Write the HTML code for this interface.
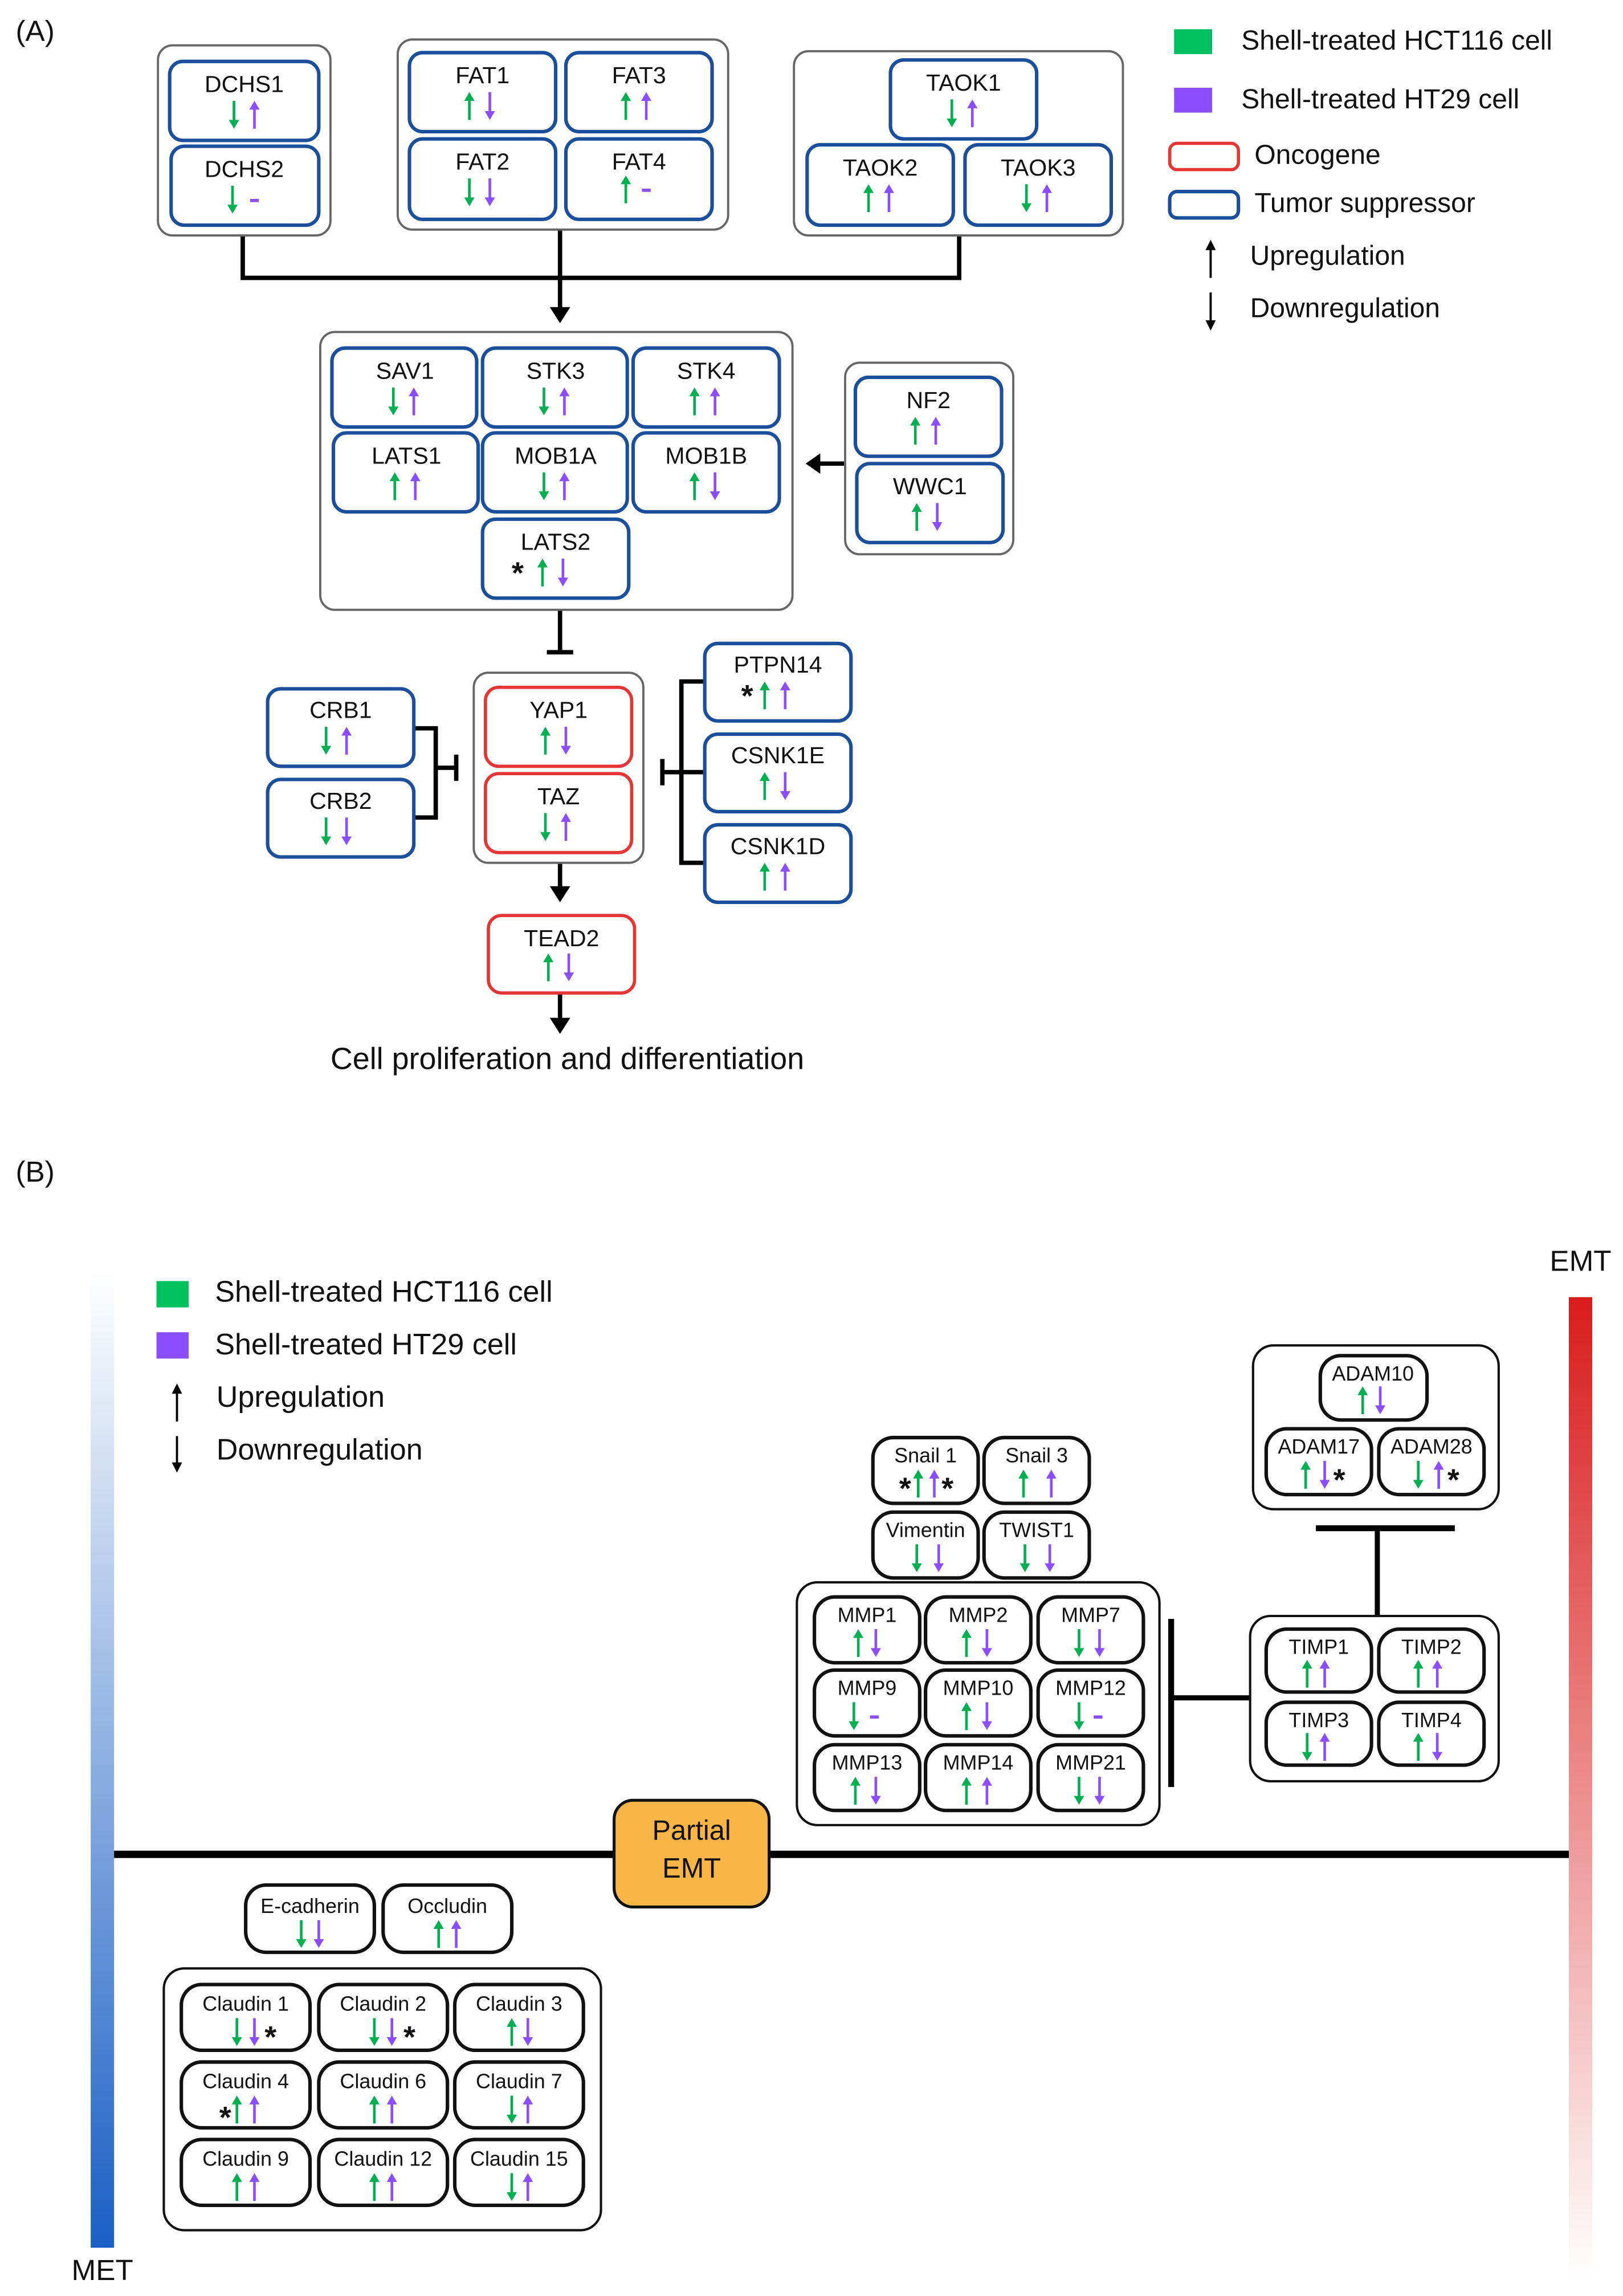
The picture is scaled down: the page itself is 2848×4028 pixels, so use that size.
<!DOCTYPE html>
<html><head><meta charset="utf-8"><style>
html,body{margin:0;padding:0;background:#fff}
svg{display:block}
text{font-family:"Liberation Sans",sans-serif;font-size:16px;text-anchor:middle;fill:#111}
.b{fill:#fff;stroke:#1b4f9c;stroke-width:2.4}
.r{fill:#fff;stroke:#e53535;stroke-width:2.2}
.g{fill:#fff;stroke:#666;stroke-width:1.5}
.k{fill:#fff;stroke:#111;stroke-width:2.4}
.kc{fill:#fff;stroke:#111;stroke-width:1.6}
.l{stroke:#000;stroke-width:3;fill:none}
.s{font-size:21px;font-weight:bold}
.lg{font-size:18.7px;text-anchor:start}
.lb{font-size:20.3px;text-anchor:start}
.sm{font-size:14px}
</style></head><body>
<svg width="2848" height="4028" viewBox="0 0 1110 1570" xmlns="http://www.w3.org/2000/svg">
<defs>
<g id="gu"><line x1="0" y1="5" x2="0" y2="19" stroke="#00b050" stroke-width="1.8"/><polygon points="0,0 -3.5,6 3.5,6" fill="#00b050"/></g>
<g id="gd"><line x1="0" y1="0" x2="0" y2="14" stroke="#00b050" stroke-width="1.8"/><polygon points="-3.5,13 3.5,13 0,19" fill="#00b050"/></g>
<g id="pu"><line x1="0" y1="5" x2="0" y2="19" stroke="#8a4dff" stroke-width="1.8"/><polygon points="0,0 -3.5,6 3.5,6" fill="#8a4dff"/></g>
<g id="pd"><line x1="0" y1="0" x2="0" y2="14" stroke="#8a4dff" stroke-width="1.8"/><polygon points="-3.5,13 3.5,13 0,19" fill="#8a4dff"/></g>
<g id="pm"><rect x="-3" y="9" width="6" height="2.2" fill="#8a4dff"/></g>
<linearGradient id="met" x1="0" y1="0" x2="0" y2="1"><stop offset="0" stop-color="#fff"/><stop offset="1" stop-color="#1a5fc4"/></linearGradient>
<linearGradient id="emt" x1="0" y1="0" x2="0" y2="1"><stop offset="0" stop-color="#d91c1c"/><stop offset="1" stop-color="#fff"/></linearGradient>
</defs>

<text x="24" y="28" style="font-size:20px">(A)</text>
<text x="24" y="808" style="font-size:20px">(B)</text>

<!-- Legend A -->
<rect x="803" y="20" width="26" height="17" fill="#00c060"/>
<text x="849" y="34" class="lg">Shell-treated HCT116 cell</text>
<rect x="803" y="60" width="26" height="17" fill="#8a4dff"/>
<text x="849" y="74" class="lg">Shell-treated HT29 cell</text>
<rect x="800" y="98" width="47" height="18" rx="5" class="r"/>
<text x="858" y="112" class="lg">Oncogene</text>
<rect x="800" y="131" width="47" height="18" rx="5" class="b"/>
<text x="858" y="145" class="lg">Tumor suppressor</text>
<line x1="828" y1="170" x2="828" y2="190" stroke="#000" stroke-width="1.5"/><polygon points="828,164 824.5,171 831.5,171"/>
<text x="855" y="181" class="lg">Upregulation</text>
<line x1="828" y1="200" x2="828" y2="220" stroke="#000" stroke-width="1.5"/><polygon points="824.5,219 831.5,219 828,226"/>
<text x="855" y="217" class="lg">Downregulation</text>

<!-- connectors A -->
<polyline points="166,161 166,190 656,190 656,161" class="l"/>
<line x1="383" y1="157" x2="383" y2="212" class="l"/>
<polygon points="376,210 390,210 383,221"/>
<line x1="578" y1="317" x2="560" y2="317" class="l"/>
<polygon points="561,310 561,324 551,317"/>
<line x1="383" y1="417" x2="383" y2="446" class="l"/>
<line x1="374" y1="446" x2="392" y2="446" class="l"/>
<polyline points="283,498 298,498 298,559 283,559" class="l"/>
<line x1="298" y1="525" x2="312" y2="525" class="l"/>
<line x1="312" y1="516" x2="312" y2="534" class="l"/>
<polyline points="482,466 466,466 466,590 482,590" class="l"/>
<line x1="466" y1="528" x2="482" y2="528" class="l"/>
<line x1="466" y1="528" x2="453" y2="528" class="l"/>
<line x1="453" y1="519" x2="453" y2="537" class="l"/>
<line x1="383" y1="590" x2="383" y2="608" class="l"/>
<polygon points="376,606 390,606 383,617"/>
<line x1="383" y1="679" x2="383" y2="698" class="l"/>
<polygon points="376,696 390,696 383,707"/>
<text x="388" y="731" style="font-size:21px">Cell proliferation and differentiation</text>

<!-- containers A -->
<rect x="108" y="31" width="118" height="130" rx="10" class="g"/>
<rect x="272" y="27" width="226" height="130" rx="10" class="g"/>
<rect x="543" y="35" width="225" height="126" rx="10" class="g"/>
<rect x="219" y="227" width="323" height="190" rx="10" class="g"/>
<rect x="578" y="248" width="115" height="131" rx="10" class="g"/>
<rect x="324" y="460" width="116" height="130" rx="10" class="g"/>

<!-- boxes A -->
<g transform="translate(116,42)"><rect width="102" height="54" rx="9" class="b"/><text x="51" y="21">DCHS1</text><use href="#gd" x="44" y="27"/><use href="#pu" x="58" y="27"/></g>
<g transform="translate(117,100)"><rect width="101" height="54" rx="9" class="b"/><text x="50" y="21">DCHS2</text><use href="#gd" x="42" y="27"/><use href="#pm" x="57" y="27"/></g>
<g transform="translate(280,36)"><rect width="100" height="54" rx="9" class="b"/><text x="50" y="21">FAT1</text><use href="#gu" x="41" y="27"/><use href="#pd" x="55" y="27"/></g>
<g transform="translate(387,36)"><rect width="100" height="54" rx="9" class="b"/><text x="50" y="21">FAT3</text><use href="#gu" x="41" y="27"/><use href="#pu" x="55" y="27"/></g>
<g transform="translate(280,95)"><rect width="100" height="55" rx="9" class="b"/><text x="50" y="21">FAT2</text><use href="#gd" x="41" y="27"/><use href="#pd" x="55" y="27"/></g>
<g transform="translate(387,95)"><rect width="100" height="55" rx="9" class="b"/><text x="50" y="21">FAT4</text><use href="#gu" x="41" y="25"/><use href="#pm" x="55" y="25"/></g>
<g transform="translate(609,41)"><rect width="100" height="54" rx="9" class="b"/><text x="50" y="21">TAOK1</text><use href="#gd" x="42" y="27"/><use href="#pu" x="56" y="27"/></g>
<g transform="translate(552,99)"><rect width="100" height="55" rx="9" class="b"/><text x="50" y="21">TAOK2</text><use href="#gu" x="42" y="27"/><use href="#pu" x="56" y="27"/></g>
<g transform="translate(660,99)"><rect width="100" height="55" rx="9" class="b"/><text x="50" y="21">TAOK3</text><use href="#gd" x="42" y="27"/><use href="#pu" x="56" y="27"/></g>

<g transform="translate(227,238)"><rect width="99" height="54" rx="9" class="b"/><text x="50" y="21">SAV1</text><use href="#gd" x="42" y="27"/><use href="#pu" x="56" y="27"/></g>
<g transform="translate(330,238)"><rect width="99" height="54" rx="9" class="b"/><text x="50" y="21">STK3</text><use href="#gd" x="42" y="27"/><use href="#pu" x="56" y="27"/></g>
<g transform="translate(433,238)"><rect width="100" height="54" rx="9" class="b"/><text x="50" y="21">STK4</text><use href="#gu" x="42" y="27"/><use href="#pu" x="56" y="27"/></g>
<g transform="translate(228,296)"><rect width="99" height="54" rx="9" class="b"/><text x="50" y="21">LATS1</text><use href="#gu" x="42" y="27"/><use href="#pu" x="56" y="27"/></g>
<g transform="translate(330,296)"><rect width="99" height="54" rx="9" class="b"/><text x="50" y="21">MOB1A</text><use href="#gd" x="42" y="27"/><use href="#pu" x="56" y="27"/></g>
<g transform="translate(433,296)"><rect width="100" height="54" rx="9" class="b"/><text x="50" y="21">MOB1B</text><use href="#gu" x="42" y="27"/><use href="#pd" x="56" y="27"/></g>
<g transform="translate(330,355)"><rect width="100" height="54" rx="9" class="b"/><text x="50" y="21">LATS2</text><text x="24" y="44" class="s">*</text><use href="#gu" x="41" y="27"/><use href="#pd" x="55" y="27"/></g>
<g transform="translate(585,258)"><rect width="100" height="54" rx="9" class="b"/><text x="50" y="21">NF2</text><use href="#gu" x="41" y="27"/><use href="#pu" x="55" y="27"/></g>
<g transform="translate(586,317)"><rect width="100" height="54" rx="9" class="b"/><text x="50" y="21">WWC1</text><use href="#gu" x="41" y="27"/><use href="#pd" x="55" y="27"/></g>

<g transform="translate(183,471)"><rect width="100" height="53" rx="9" class="b"/><text x="50" y="20">CRB1</text><use href="#gd" x="40" y="26"/><use href="#pu" x="54" y="26"/></g>
<g transform="translate(183,533)"><rect width="100" height="53" rx="9" class="b"/><text x="50" y="20">CRB2</text><use href="#gd" x="40" y="26"/><use href="#pd" x="54" y="26"/></g>
<g transform="translate(332,470)"><rect width="100" height="54" rx="9" class="r"/><text x="50" y="21">YAP1</text><use href="#gu" x="41" y="27"/><use href="#pd" x="55" y="27"/></g>
<g transform="translate(332,529)"><rect width="100" height="54" rx="9" class="r"/><text x="50" y="21">TAZ</text><use href="#gd" x="41" y="27"/><use href="#pu" x="55" y="27"/></g>
<g transform="translate(482,440)"><rect width="100" height="53" rx="9" class="b"/><text x="50" y="20">PTPN14</text><text x="29" y="43" class="s">*</text><use href="#gu" x="41" y="26"/><use href="#pu" x="55" y="26"/></g>
<g transform="translate(482,502)"><rect width="100" height="53" rx="9" class="b"/><text x="50" y="20">CSNK1E</text><use href="#gu" x="41" y="26"/><use href="#pd" x="55" y="26"/></g>
<g transform="translate(482,564)"><rect width="100" height="53" rx="9" class="b"/><text x="50" y="20">CSNK1D</text><use href="#gu" x="41" y="26"/><use href="#pu" x="55" y="26"/></g>
<g transform="translate(334,626)"><rect width="100" height="53" rx="9" class="r"/><text x="50" y="21">TEAD2</text><use href="#gu" x="41" y="26"/><use href="#pd" x="55" y="26"/></g>

<!-- Panel B -->
<rect x="62" y="870" width="16" height="667" fill="url(#met)"/>
<text x="70" y="1559" style="font-size:20px">MET</text>
<rect x="1073" y="887" width="16" height="673" fill="url(#emt)"/>
<text x="1081" y="869" style="font-size:20px">EMT</text>
<line x1="78" y1="1268" x2="1073" y2="1268" stroke="#000" stroke-width="5"/>
<rect x="420" y="1231" width="106" height="73" rx="13" fill="#f9b545" stroke="#111" stroke-width="2"/>
<text x="473" y="1258" style="font-size:19px">Partial</text>
<text x="473" y="1284" style="font-size:19px">EMT</text>

<rect x="107" y="876" width="22" height="18" fill="#00c060"/>
<text x="147" y="890" class="lb">Shell-treated HCT116 cell</text>
<rect x="107" y="911" width="22" height="18" fill="#8a4dff"/>
<text x="147" y="926" class="lb">Shell-treated HT29 cell</text>
<line x1="121" y1="952" x2="121" y2="972" stroke="#000" stroke-width="1.5"/><polygon points="121,946 117.5,953 124.5,953"/>
<text x="148" y="962" class="lb">Upregulation</text>
<line x1="121" y1="982" x2="121" y2="1001" stroke="#000" stroke-width="1.5"/><polygon points="117.5,1000 124.5,1000 121,1007"/>
<text x="148" y="998" class="lb">Downregulation</text>

<!-- connectors B -->
<line x1="801" y1="1107" x2="801" y2="1222" stroke="#000" stroke-width="4"/>
<line x1="801" y1="1161" x2="855" y2="1161" stroke="#000" stroke-width="3.5"/>
<line x1="942" y1="1105" x2="942" y2="1045" stroke="#000" stroke-width="3.5"/>
<line x1="900" y1="1045" x2="995" y2="1045" stroke="#000" stroke-width="4"/>

<rect x="545" y="1082" width="248" height="166" rx="14" class="kc"/>
<rect x="855" y="1105" width="170" height="113" rx="14" class="kc"/>
<rect x="857" y="920" width="168" height="112" rx="14" class="kc"/>
<rect x="112" y="1346" width="299" height="179" rx="14" class="kc"/>

<g class="sm">
<g transform="translate(597,983)"><rect width="72" height="45" rx="14" class="k"/><text x="36" y="17" class="sm">Snail 1</text><text x="22" y="42" class="s">*</text><use href="#gu" x="31" y="22"/><use href="#pu" x="42" y="22"/><text x="51" y="42" class="s">*</text></g>
<g transform="translate(673,983)"><rect width="72" height="45" rx="14" class="k"/><text x="36" y="17" class="sm">Snail 3</text><use href="#gu" x="27" y="22"/><use href="#pu" x="46" y="22"/></g>
<g transform="translate(597,1034)"><rect width="72" height="45" rx="14" class="k"/><text x="36" y="17" class="sm">Vimentin</text><use href="#gd" x="30" y="22"/><use href="#pd" x="45" y="22"/></g>
<g transform="translate(673,1034)"><rect width="72" height="45" rx="14" class="k"/><text x="36" y="17" class="sm">TWIST1</text><use href="#gd" x="28" y="22"/><use href="#pd" x="45" y="22"/></g>

<g transform="translate(557,1092)"><rect width="72" height="45" rx="14" class="k"/><text x="36" y="17" class="sm">MMP1</text><use href="#gu" x="30" y="22"/><use href="#pd" x="42" y="22"/></g>
<g transform="translate(633,1092)"><rect width="72" height="45" rx="14" class="k"/><text x="36" y="17" class="sm">MMP2</text><use href="#gu" x="28" y="22"/><use href="#pd" x="42" y="22"/></g>
<g transform="translate(710,1092)"><rect width="72" height="45" rx="14" class="k"/><text x="36" y="17" class="sm">MMP7</text><use href="#gd" x="28" y="22"/><use href="#pd" x="42" y="22"/></g>
<g transform="translate(557,1142)"><rect width="72" height="45" rx="14" class="k"/><text x="36" y="17" class="sm">MMP9</text><use href="#gd" x="27" y="22"/><use href="#pm" x="41" y="22"/></g>
<g transform="translate(633,1142)"><rect width="72" height="45" rx="14" class="k"/><text x="36" y="17" class="sm">MMP10</text><use href="#gu" x="28" y="22"/><use href="#pd" x="42" y="22"/></g>
<g transform="translate(710,1142)"><rect width="72" height="45" rx="14" class="k"/><text x="36" y="17" class="sm">MMP12</text><use href="#gd" x="28" y="22"/><use href="#pm" x="41" y="22"/></g>
<g transform="translate(557,1193)"><rect width="72" height="45" rx="14" class="k"/><text x="36" y="17" class="sm">MMP13</text><use href="#gu" x="28" y="22"/><use href="#pd" x="42" y="22"/></g>
<g transform="translate(633,1193)"><rect width="72" height="45" rx="14" class="k"/><text x="36" y="17" class="sm">MMP14</text><use href="#gu" x="28" y="22"/><use href="#pu" x="42" y="22"/></g>
<g transform="translate(710,1193)"><rect width="72" height="45" rx="14" class="k"/><text x="36" y="17" class="sm">MMP21</text><use href="#gd" x="28" y="22"/><use href="#pd" x="42" y="22"/></g>

<g transform="translate(866,1114)"><rect width="72" height="43" rx="14" class="k"/><text x="36" y="17" class="sm">TIMP1</text><use href="#gu" x="28" y="21"/><use href="#pu" x="40" y="21"/></g>
<g transform="translate(943,1114)"><rect width="72" height="43" rx="14" class="k"/><text x="36" y="17" class="sm">TIMP2</text><use href="#gu" x="27" y="21"/><use href="#pu" x="40" y="21"/></g>
<g transform="translate(866,1164)"><rect width="72" height="43" rx="14" class="k"/><text x="36" y="17" class="sm">TIMP3</text><use href="#gd" x="28" y="21"/><use href="#pu" x="40" y="21"/></g>
<g transform="translate(943,1164)"><rect width="72" height="43" rx="14" class="k"/><text x="36" y="17" class="sm">TIMP4</text><use href="#gu" x="27" y="21"/><use href="#pd" x="40" y="21"/></g>

<g transform="translate(903,927)"><rect width="73" height="44" rx="14" class="k"/><text x="36" y="17" class="sm">ADAM10</text><use href="#gu" x="29" y="21"/><use href="#pd" x="41" y="21"/></g>
<g transform="translate(866,977)"><rect width="72" height="45" rx="14" class="k"/><text x="36" y="17" class="sm">ADAM17</text><use href="#gu" x="27" y="22"/><use href="#pd" x="40" y="22"/><text x="50" y="42" class="s">*</text></g>
<g transform="translate(943,977)"><rect width="72" height="45" rx="14" class="k"/><text x="36" y="17" class="sm">ADAM28</text><use href="#gd" x="27" y="22"/><use href="#pu" x="41" y="22"/><text x="51" y="42" class="s">*</text></g>

<g transform="translate(168,1289)"><rect width="88" height="46" rx="14" class="k"/><text x="44" y="19" class="sm">E-cadherin</text><use href="#gd" x="38" y="24"/><use href="#pd" x="50" y="24"/></g>
<g transform="translate(262,1289)"><rect width="88" height="46" rx="14" class="k"/><text x="44" y="19" class="sm">Occludin</text><use href="#gu" x="38" y="24"/><use href="#pu" x="50" y="24"/></g>

<g transform="translate(124,1357)"><rect width="88" height="45" rx="14" class="k"/><text x="44" y="18" class="sm">Claudin 1</text><use href="#gd" x="38" y="23"/><use href="#pd" x="50" y="23"/><text x="61" y="43" class="s">*</text></g>
<g transform="translate(218,1357)"><rect width="88" height="45" rx="14" class="k"/><text x="44" y="18" class="sm">Claudin 2</text><use href="#gd" x="38" y="23"/><use href="#pd" x="50" y="23"/><text x="62" y="43" class="s">*</text></g>
<g transform="translate(311,1357)"><rect width="88" height="45" rx="14" class="k"/><text x="44" y="18" class="sm">Claudin 3</text><use href="#gu" x="39" y="23"/><use href="#pd" x="50" y="23"/></g>
<g transform="translate(124,1410)"><rect width="88" height="45" rx="14" class="k"/><text x="44" y="18" class="sm">Claudin 4</text><text x="30" y="45" class="s">*</text><use href="#gu" x="38" y="23"/><use href="#pu" x="50" y="23"/></g>
<g transform="translate(218,1410)"><rect width="88" height="45" rx="14" class="k"/><text x="44" y="18" class="sm">Claudin 6</text><use href="#gu" x="38" y="23"/><use href="#pu" x="50" y="23"/></g>
<g transform="translate(311,1410)"><rect width="88" height="45" rx="14" class="k"/><text x="44" y="18" class="sm">Claudin 7</text><use href="#gd" x="39" y="23"/><use href="#pu" x="50" y="23"/></g>
<g transform="translate(124,1463)"><rect width="88" height="45" rx="14" class="k"/><text x="44" y="18" class="sm">Claudin 9</text><use href="#gu" x="38" y="23"/><use href="#pu" x="50" y="23"/></g>
<g transform="translate(218,1463)"><rect width="88" height="45" rx="14" class="k"/><text x="44" y="18" class="sm">Claudin 12</text><use href="#gu" x="38" y="23"/><use href="#pu" x="50" y="23"/></g>
<g transform="translate(311,1463)"><rect width="88" height="45" rx="14" class="k"/><text x="44" y="18" class="sm">Claudin 15</text><use href="#gd" x="39" y="23"/><use href="#pu" x="50" y="23"/></g>
</g>
</svg>
</body></html>
